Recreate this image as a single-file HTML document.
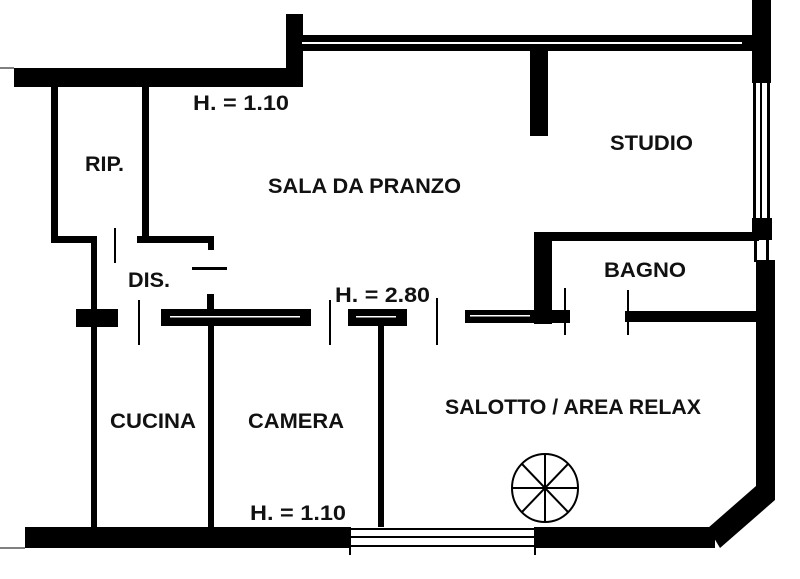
<!DOCTYPE html>
<html><head><meta charset="utf-8"><style>
html,body{margin:0;padding:0;background:#fff;}
svg{display:block;}
text{font-family:"Liberation Sans",sans-serif;font-weight:bold;font-size:21px;fill:#111;}
</style></head><body>
<svg width="800" height="579" viewBox="0 0 800 579" xmlns="http://www.w3.org/2000/svg">
<g fill="#000">
<rect x="14" y="68" width="288" height="19"/>
<rect x="286" y="14" width="17" height="73"/>
<line x1="0" y1="68" x2="14" y2="68" stroke="#000" stroke-width="1"/>
<rect x="302" y="35" width="452" height="16"/>
<rect x="302" y="42" width="440" height="2" fill="#fff"/>
<rect x="752" y="0" width="19" height="83"/>
<rect x="753" y="83" width="3" height="140"/>
<rect x="767" y="83" width="3" height="140"/>
<rect x="760" y="83" width="2" height="140"/>
<rect x="752" y="218" width="20" height="22"/>
<rect x="754" y="240" width="3" height="22"/>
<rect x="766" y="240" width="3" height="22"/>
<rect x="756" y="260" width="19" height="228"/>
<polygon points="756,486 775,486 775,500 720,548 708,528 756,486"/>
<rect x="25" y="527" width="325" height="21"/>
<rect x="535" y="527" width="180" height="21"/>
<rect x="350" y="528" width="185" height="2"/>
<rect x="350" y="536" width="185" height="2"/>
<rect x="350" y="545" width="185" height="2"/>
<rect x="349" y="527" width="2" height="28"/>
<rect x="534" y="527" width="2" height="28"/>
<line x1="0" y1="548" x2="25" y2="548" stroke="#000" stroke-width="1"/>
<rect x="51" y="87" width="7" height="155"/>
<rect x="51" y="236" width="45" height="7"/>
<rect x="91" y="236" width="6" height="291"/>
<rect x="142" y="87" width="7" height="156"/>
<rect x="137" y="236" width="77" height="7"/>
<rect x="208" y="236" width="6" height="14"/>
<rect x="192" y="267" width="35" height="3"/>
<rect x="114" y="228" width="2" height="35"/>
<rect x="138" y="300" width="2" height="45"/>
<rect x="329" y="300" width="2" height="45"/>
<rect x="436" y="298" width="2" height="47"/>
<rect x="564" y="288" width="2" height="47"/>
<rect x="627" y="290" width="2" height="45"/>
<rect x="76" y="309" width="42" height="18"/>
<rect x="161" y="309" width="150" height="17"/>
<rect x="207" y="294" width="7" height="16"/>
<rect x="208" y="326" width="6" height="201"/>
<rect x="348" y="309" width="59" height="17"/>
<rect x="378" y="326" width="6" height="201"/>
<rect x="465" y="310" width="105" height="13"/>
<rect x="534" y="232" width="18" height="92"/>
<rect x="534" y="232" width="225" height="9"/>
<rect x="625" y="311" width="135" height="11"/>
<rect x="530" y="50" width="18" height="86"/>
</g>
<g fill="#fff">
<rect x="170" y="316" width="130" height="1.5"/>
<rect x="356" y="316" width="40" height="1.5"/>
<rect x="470" y="315" width="60" height="1.5"/>
</g>
<g stroke="#000" stroke-width="2" fill="none">
<ellipse cx="545" cy="488" rx="33" ry="34"/>
<line x1="512" y1="488" x2="578" y2="488"/>
<line x1="545" y1="454" x2="545" y2="522"/>
<line x1="522" y1="464" x2="568" y2="512"/>
<line x1="568" y1="464" x2="522" y2="512"/>
</g>
<text x="193" y="110" textLength="96" lengthAdjust="spacingAndGlyphs">H. = 1.10</text>
<text x="85" y="171" textLength="39" lengthAdjust="spacingAndGlyphs">RIP.</text>
<text x="268" y="193" textLength="193" lengthAdjust="spacingAndGlyphs">SALA DA PRANZO</text>
<text x="610" y="150" textLength="83" lengthAdjust="spacingAndGlyphs">STUDIO</text>
<text x="604" y="277" textLength="82" lengthAdjust="spacingAndGlyphs">BAGNO</text>
<text x="128" y="287" textLength="42" lengthAdjust="spacingAndGlyphs">DIS.</text>
<text x="335" y="302" textLength="95" lengthAdjust="spacingAndGlyphs">H. = 2.80</text>
<text x="110" y="428" textLength="86" lengthAdjust="spacingAndGlyphs">CUCINA</text>
<text x="248" y="428" textLength="96" lengthAdjust="spacingAndGlyphs">CAMERA</text>
<text x="445" y="414" textLength="256" lengthAdjust="spacingAndGlyphs">SALOTTO / AREA RELAX</text>
<text x="250" y="520" textLength="96" lengthAdjust="spacingAndGlyphs">H. = 1.10</text>
</svg>
</body></html>
